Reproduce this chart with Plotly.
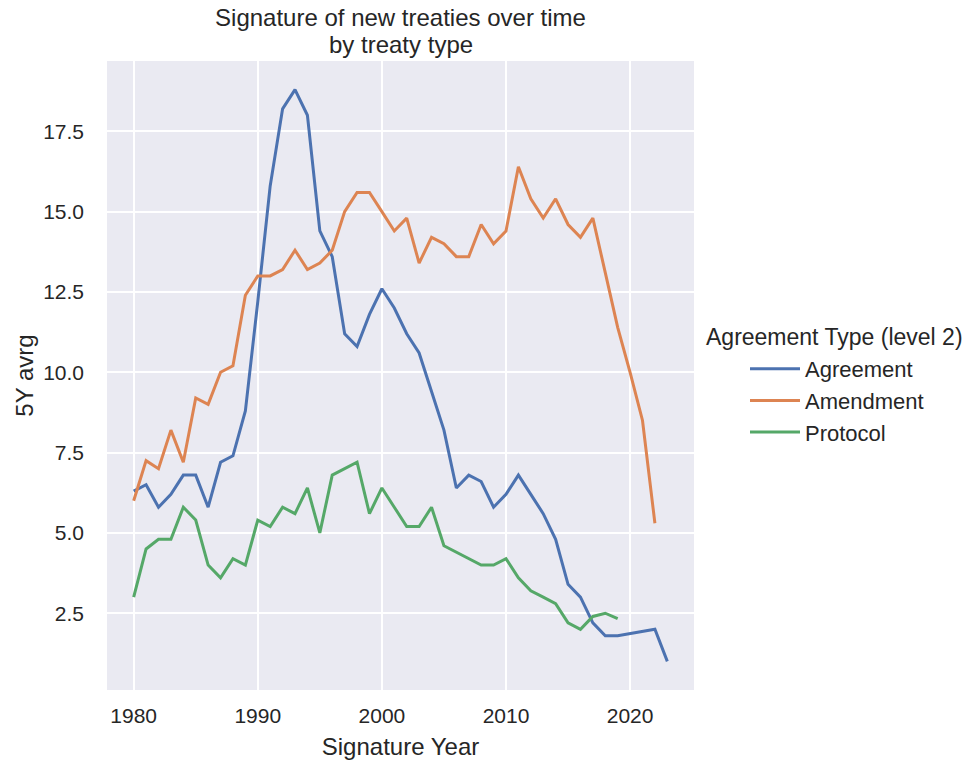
import plotly.graph_objects as go

# Agreement (blue)
agree_years = [1980, 1981, 1982, 1983, 1984, 1985, 1986, 1987, 1988, 1989,
               1990, 1991, 1992, 1993, 1994, 1995, 1996, 1997, 1998, 1999,
               2000, 2001, 2002, 2003, 2004, 2005, 2006, 2007, 2008, 2009,
               2010, 2011, 2012, 2013, 2014, 2015, 2016, 2017, 2018, 2019,
               2022, 2023]
agree_vals = [6.3, 6.5, 5.8, 6.2, 6.8, 6.8, 5.8, 7.2, 7.4, 8.8,
              12.2, 15.8, 18.2, 18.8, 18.0, 14.4, 13.6, 11.2, 10.8, 11.8,
              12.6, 12.0, 11.2, 10.6, 9.4, 8.2, 6.4, 6.8, 6.6, 5.8,
              6.2, 6.8, 6.2, 5.6, 4.8, 3.4, 3.0, 2.2, 1.8, 1.8,
              2.0, 1.0]

# Amendment (orange)
amend_years = list(range(1980, 2023))
amend_vals = [6.0, 7.25, 7.0, 8.2, 7.2, 9.2, 9.0, 10.0, 10.2, 12.4,
              13.0, 13.0, 13.2, 13.8, 13.2, 13.4, 13.8, 15.0, 15.6, 15.6,
              15.0, 14.4, 14.8, 13.4, 14.2, 14.0, 13.6, 13.6, 14.6, 14.0,
              14.4, 16.4, 15.4, 14.8, 15.4, 14.6, 14.2, 14.8, 13.1, 11.4,
              10.0, 8.5, 5.3]

# Protocol (green)
proto_years = list(range(1980, 2020))
proto_vals = [3.0, 4.5, 4.8, 4.8, 5.8, 5.4, 4.0, 3.6, 4.2, 4.0,
              5.4, 5.2, 5.8, 5.6, 6.4, 5.0, 6.8, 7.0, 7.2, 5.6,
              6.4, 5.8, 5.2, 5.2, 5.8, 4.6, 4.4, 4.2, 4.0, 4.0,
              4.2, 3.6, 3.2, 3.0, 2.8, 2.2, 2.0, 2.4, 2.5, 2.33]

series_names = ["Agreement", "Amendment", "Protocol"]
colors = ["#4C72B0", "#DD8452", "#55A868"]
x_ticks = [1980, 1990, 2000, 2010, 2020]
y_ticks = [2.5, 5.0, 7.5, 10.0, 12.5, 15.0, 17.5]

FONT = "Liberation Sans, Arial, sans-serif"
TXT = "#262626"

W, H = 975, 762
L, T, R, B = 107, 61, 975 - 694, 762 - 690
PW, PH = W - L - R, H - T - B

fig = go.Figure()
for name, xs, ys, c in zip(series_names,
                           [agree_years, amend_years, proto_years],
                           [agree_vals, amend_vals, proto_vals], colors):
    fig.add_trace(go.Scatter(x=xs, y=ys, mode="lines", name=name,
                             line=dict(color=c, width=3)))

fig.update_layout(
    width=W, height=H,
    margin=dict(l=L, r=R, t=T, b=B, autoexpand=False),
    paper_bgcolor="white", plot_bgcolor="#EAEAF2",
    font=dict(family=FONT, size=21, color=TXT),
    title=dict(text="Signature of new treaties over time",
               x=(L + PW / 2) / W, xanchor="center",
               yref="container", y=1 - 18 / H, yanchor="middle",
               font=dict(size=24, color=TXT)),
    showlegend=True,
    legend=dict(x=(745 - L) / PW, xanchor="left", y=(690 - 348) / PH, yanchor="top",
                font=dict(size=22, color=TXT), bgcolor="rgba(0,0,0,0)",
                tracegroupgap=0, itemwidth=50),
    annotations=[
        dict(text="by treaty type", xref="paper", yref="paper",
             x=0.5, xanchor="center", y=1 + (T - 45) / PH, yanchor="middle",
             showarrow=False, font=dict(size=24, color=TXT)),
        dict(text="Agreement Type (level 2)", xref="paper", yref="paper",
             x=(704 - L) / PW, xanchor="left",
             y=(690 - 337) / PH, yanchor="middle", showarrow=False,
             font=dict(size=23, color=TXT)),
    ],
)
fig.update_xaxes(range=[1977.85, 2025.15], tickvals=x_ticks,
                 ticktext=[str(t) for t in x_ticks], automargin=False,
                 showgrid=True, gridcolor="white", gridwidth=2, zeroline=False,
                 showline=False, ticks="", ticklabelstandoff=11,
                 title=dict(text="Signature Year", font=dict(size=24, color=TXT), standoff=12))
fig.update_yaxes(range=[0.11, 19.69], tickvals=y_ticks,
                 ticktext=[f"{t:.1f}" for t in y_ticks], automargin=False,
                 showgrid=True, gridcolor="white", gridwidth=2, zeroline=False,
                 showline=False, ticks="", ticklabelstandoff=22,
                 title=dict(text="5Y avrg", font=dict(size=24, color=TXT), standoff=2))

fig.write_html("out.html", config={"displayModeBar": False},
               post_script="document.body.style.margin='0';document.body.style.overflow='hidden';")
